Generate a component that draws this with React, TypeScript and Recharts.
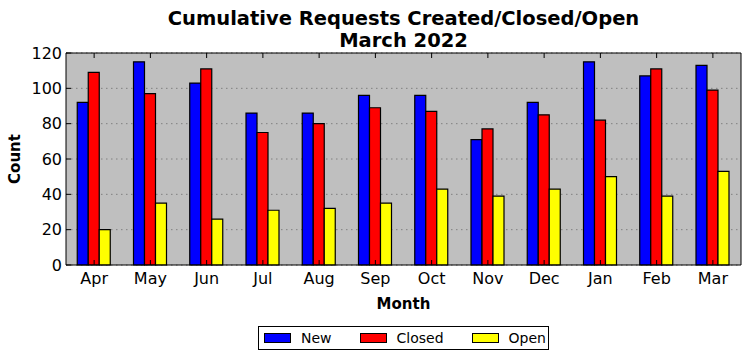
import React from 'react';
import { BarChart, Bar, XAxis, YAxis, CartesianGrid } from 'recharts';

const months = ['Apr', 'May', 'Jun', 'Jul', 'Aug', 'Sep', 'Oct', 'Nov', 'Dec', 'Jan', 'Feb', 'Mar'];
const newCounts = [92, 115, 103, 86, 86, 96, 96, 71, 92, 115, 107, 113];
const closedCounts = [109, 97, 111, 75, 80, 89, 87, 77, 85, 82, 111, 99];
const openCounts = [20, 35, 26, 31, 32, 35, 43, 39, 43, 50, 39, 53];
const yTicks = [0, 20, 40, 60, 80, 100, 120];
const seriesNames = ['New', 'Closed', 'Open'];
const titleLines = ['Cumulative Requests Created/Closed/Open', 'March 2022'];

const seriesKeys = ['new', 'closed', 'open'];
const seriesColors = ['#0000ff', '#ff0000', '#ffff00'];

const data = months.map((m, i) => ({
  month: m,
  new: newCounts[i],
  closed: closedCounts[i],
  open: openCounts[i],
}));

const FONT = '"DejaVu Sans", sans-serif';

const EmptyTick = () => <g />;

const CountLabel = (props: any) => {
  const vb = props.viewBox || { x: 0, y: 53, width: 66, height: 212 };
  const x = vb.x + 15;
  const y = vb.y + vb.height / 2;
  return (
    <text
      x={x}
      y={y}
      transform={`rotate(-90 ${x} ${y})`}
      textAnchor="middle"
      dominantBaseline="central"
      fontFamily={FONT}
      fontWeight="bold"
      fontSize={15}
      fill="#000"
    >
      Count
    </text>
  );
};

export default function App() {
  return (
    <div style={{ position: 'absolute', left: 0, top: 0, width: 751, height: 361, background: '#fff', fontFamily: FONT }}>
      <div
        style={{
          position: 'absolute',
          left: 66,
          width: 675,
          top: 8,
          textAlign: 'center',
          fontWeight: 'bold',
          fontSize: 19.5,
          lineHeight: '22px',
          color: '#000',
        }}
      >
        {titleLines.map((t) => (
          <div key={t}>{t}</div>
        ))}
      </div>
      <BarChart
        width={751}
        height={361}
        data={data}
        margin={{ top: 52, right: 0, bottom: 52, left: 0 }}
        barCategoryGap="20%"
        barGap={0}
      >
        <CartesianGrid
          horizontal
          vertical={false}
          fill="#bfbfbf"
          stroke="#808080"
          strokeDasharray="1.5 3.5"
          fillOpacity={1}
        />
        <XAxis
          dataKey="month"
          height={44}
          tickSize={-5}
          tickMargin={13}
          axisLine={{ stroke: '#000', strokeWidth: 1 }}
          tickLine={{ stroke: '#000' }}
          tick={{ fill: '#000', fontSize: 16, fontFamily: FONT }}
          interval={0}
          label={{ value: 'Month', position: 'insideBottom', offset: 0, fill: '#000', fontSize: 15, fontWeight: 'bold', fontFamily: FONT }}
        />
        <XAxis
          xAxisId="top"
          dataKey="month"
          orientation="top"
          height={1}
          tickSize={-5}
          axisLine={{ stroke: '#000', strokeWidth: 1 }}
          tickLine={{ stroke: '#000' }}
          tick={EmptyTick}
          interval={0}
        />
        <YAxis
          width={66}
          domain={[0, 120]}
          ticks={yTicks}
          tickSize={-5}
          tickMargin={9}
          axisLine={{ stroke: '#000', strokeWidth: 1 }}
          tickLine={{ stroke: '#000' }}
          tick={{ fill: '#000', fontSize: 16, fontFamily: FONT }}
          interval={0}
          label={<CountLabel />}
        />
        <YAxis
          yAxisId="right"
          orientation="right"
          width={10}
          domain={[0, 120]}
          ticks={yTicks}
          tickSize={-5}
          axisLine={{ stroke: '#000', strokeWidth: 1 }}
          tickLine={{ stroke: '#000' }}
          tick={EmptyTick}
          interval={0}
        />
        {seriesKeys.map((k, i) => (
          <Bar
            key={k}
            dataKey={k}
            name={seriesNames[i]}
            fill={seriesColors[i]}
            stroke="#000"
            strokeWidth={1.2}
            isAnimationActive={false}
          />
        ))}
      </BarChart>
      <div
        style={{
          position: 'absolute',
          left: 258,
          top: 326,
          width: 291,
          height: 24,
          boxSizing: 'border-box',
          border: '1px solid #000',
          background: '#fff',
          display: 'flex',
          alignItems: 'center',
          paddingLeft: 5,
          fontSize: 14,
          color: '#000',
          whiteSpace: 'nowrap',
        }}
      >
        {seriesNames.map((n, i) => (
          <div key={n} style={{ display: 'flex', alignItems: 'center', marginRight: i < seriesNames.length - 1 ? 28 : 0 }}>
            <div
              style={{
                width: 27,
                height: 10,
                boxSizing: 'border-box',
                border: '1px solid #000',
                background: seriesColors[i],
              }}
            />
            <span style={{ marginLeft: 10 }}>{n}</span>
          </div>
        ))}
      </div>
    </div>
  );
}
